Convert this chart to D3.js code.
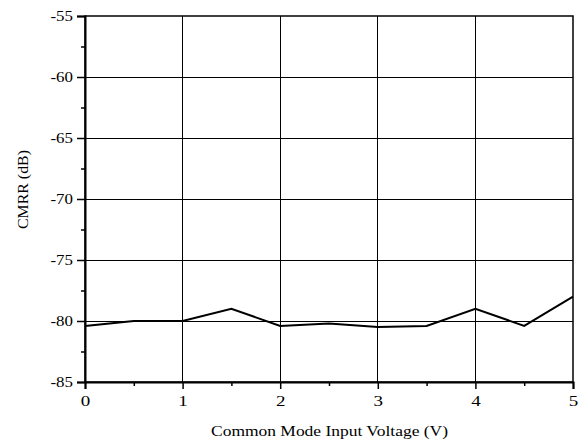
<!DOCTYPE html>
<html>
<head>
<meta charset="utf-8">
<script src="https://cdn.jsdelivr.net/npm/d3@7"></script>
<style>
  html, body { margin: 0; padding: 0; background: #fff; }
  svg { display: block; }
  text { font-family: "Liberation Serif", "DejaVu Serif", serif; fill: #000; }
</style>
</head>
<body>
<svg id="chart" width="581" height="442"></svg>
<script>
// CMRR versus common-mode input voltage
const voltage = [0, 0.5, 1, 1.5, 2, 2.5, 3, 3.5, 4, 4.5, 5];
const cmrr = [-80.4, -80.0, -80.0, -79.0, -80.4, -80.2, -80.5, -80.4, -79.0, -80.4, -78.0];
const xTicks = [0, 1, 2, 3, 4, 5];
const yTicks = [-85, -80, -75, -70, -65, -60, -55];
const xMinor = [0.5, 1.5, 2.5, 3.5, 4.5];
const yMinor = [-82.5, -77.5, -72.5, -67.5, -62.5, -57.5];

const svg = d3.select("#chart");
const L = 85, R = 573, T = 16, B = 382;

const x = d3.scaleLinear().domain([0, 5]).range([L, R]);
const y = d3.scaleLinear().domain([-85, -55]).range([B, T]);

// grid lines
svg.append("g")
  .selectAll("line").data(xTicks.slice(1, -1)).join("line")
  .attr("x1", d => x(d)).attr("x2", d => x(d))
  .attr("y1", T).attr("y2", B)
  .attr("stroke", "#000").attr("stroke-width", 1).attr("shape-rendering", "crispEdges");
svg.append("g")
  .selectAll("line").data(yTicks.slice(1, -1)).join("line")
  .attr("x1", L).attr("x2", R)
  .attr("y1", d => y(d)).attr("y2", d => y(d))
  .attr("stroke", "#000").attr("stroke-width", 1).attr("shape-rendering", "crispEdges");

// frame
svg.append("rect")
  .attr("x", L).attr("y", T).attr("width", R - L).attr("height", B - T)
  .attr("fill", "none").attr("stroke", "#000").attr("stroke-width", 1.5);

const fmt = d => String(d);

// x axis
const gx = svg.append("g").attr("transform", `translate(0,${B})`)
  .call(d3.axisBottom(x).tickValues(xTicks).tickFormat(fmt).tickSize(7).tickPadding(6));
svg.append("g").attr("transform", `translate(0,${B})`)
  .call(d3.axisBottom(x).tickValues(xMinor).tickFormat("").tickSize(4))
  .call(g => g.select(".domain").remove());

// y axis
const gy = svg.append("g").attr("transform", `translate(${L},0)`)
  .call(d3.axisLeft(y).tickValues(yTicks).tickFormat(fmt).tickSize(8).tickPadding(4));
svg.append("g").attr("transform", `translate(${L},0)`)
  .call(d3.axisLeft(y).tickValues(yMinor).tickFormat("").tickSize(4))
  .call(g => g.select(".domain").remove());

svg.selectAll(".domain").attr("stroke-width", 2);
svg.selectAll(".tick line").attr("stroke-width", 1.5);
svg.selectAll("g[font-family]").attr("font-family", null).attr("font-size", null).attr("text-anchor", null);

// tick labels: wide serif digits, left-anchored so the stretch is predictable
const xLabW = 9.5, yLabW = 22.5;
gx.selectAll(".tick text")
  .attr("font-family", "Liberation Serif").attr("font-size", 15)
  .attr("text-anchor", "start").attr("x", -xLabW / 2)
  .attr("textLength", xLabW).attr("lengthAdjust", "spacingAndGlyphs");
gy.selectAll(".tick text")
  .attr("font-family", "Liberation Serif").attr("font-size", 15)
  .attr("text-anchor", "start").attr("x", -12 - yLabW)
  .attr("textLength", yLabW).attr("lengthAdjust", "spacingAndGlyphs");

// data line
svg.append("path")
  .datum(voltage.map((v, i) => [v, cmrr[i]]))
  .attr("fill", "none").attr("stroke", "#000").attr("stroke-width", 2)
  .attr("stroke-linejoin", "miter")
  .attr("d", d3.line().x(d => x(d[0])).y(d => y(d[1])));

// axis titles
svg.append("text")
  .attr("x", 211).attr("y", 436)
  .attr("textLength", 237).attr("lengthAdjust", "spacingAndGlyphs")
  .style("font-size", "15px")
  .text("Common Mode Input Voltage (V)");
svg.append("text")
  .attr("transform", "translate(27.5,229) rotate(-90)")
  .attr("textLength", 79).attr("lengthAdjust", "spacingAndGlyphs")
  .style("font-size", "15px")
  .text("CMRR (dB)");
</script>
</body>
</html>
